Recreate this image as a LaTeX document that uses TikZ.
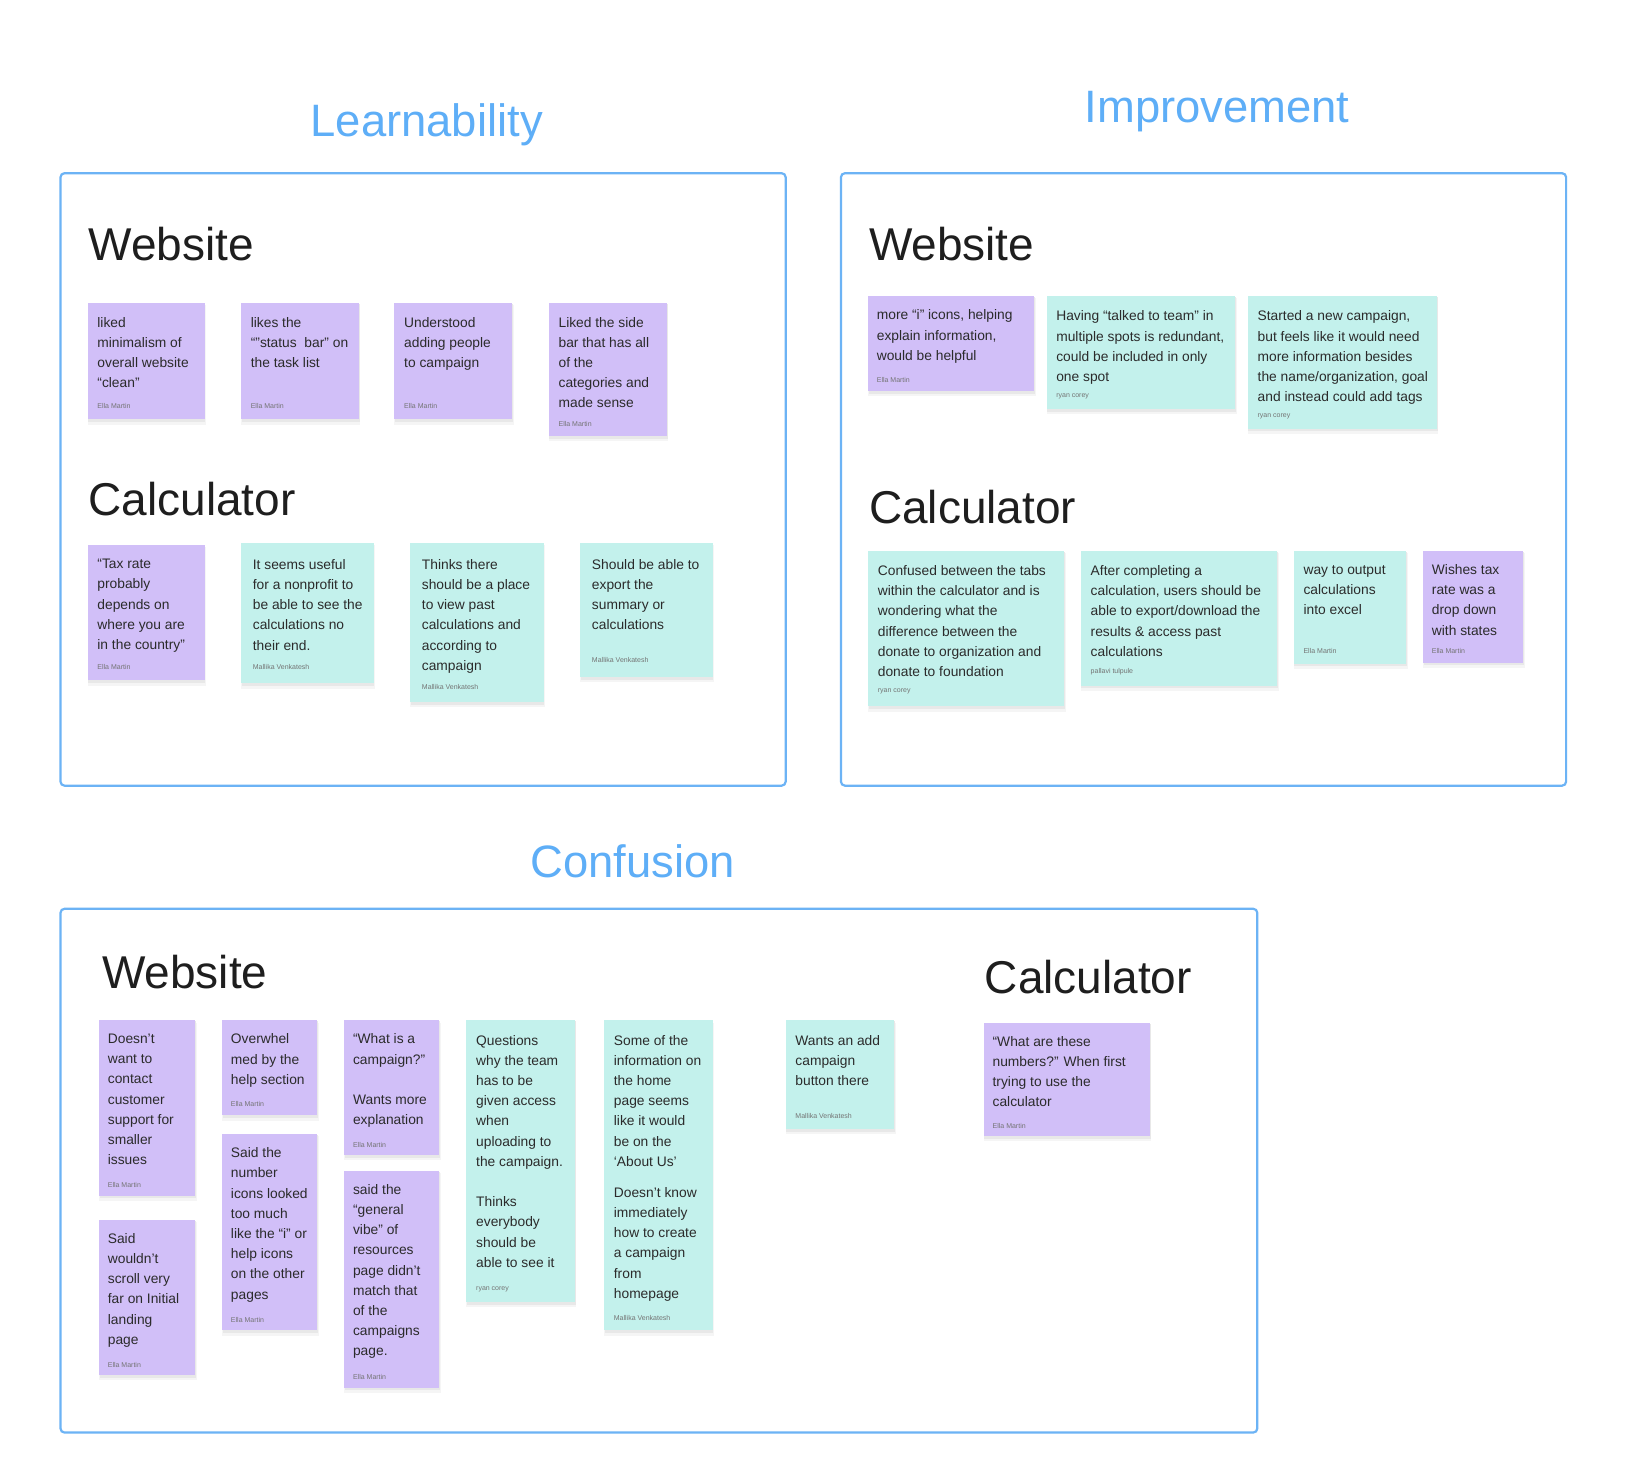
\documentclass[tikz,border=0pt]{standalone}
\usepackage{fontspec}
\setmainfont{Liberation Sans}
\usetikzlibrary{fit}
\definecolor{notepurple}{HTML}{D1BFF8}
\definecolor{noteteal}{HTML}{C3F1EC}
\definecolor{framec}{HTML}{6CB3F5}
\definecolor{titlec}{HTML}{5EAEF7}
\definecolor{inkc}{HTML}{1E1E1E}
\definecolor{notetextc}{HTML}{2B2B2B}
\definecolor{authorc}{HTML}{747474}
\newcommand\notecolor{}
\newcommand\stickyX[9][9]{%
  \fill[shadowa] (#3,#4+2) rectangle (#5+1.5,#6+5);
  \fill[shadowb] (#3+0.5,#4+1) rectangle (#5+0.8,#6+2.5);
  \node[notebox, fill=\notecolor, fit={(#3,#4) (#5,#6)}] (#2) {};
  \node[notetext] (#2-t) at (#3+#1,#4+#1+4.6) {#7};
  \node[authortext] (#2-a) at (#3+#1,#8) {#9};
}
\newcommand\stickyP{\def\notecolor{notepurple}\stickyX}
\newcommand\stickyT{\def\notecolor{noteteal}\stickyX}
\begin{document}
\begin{tikzpicture}[x=0.5217pt,y=-0.5217pt,
  notebox/.style={draw=none, inner sep=0pt, outer sep=0pt},
  notetext/.style={inner sep=0pt, anchor=north west, align=left,
    font=\fontsize{6.9}{10.1}\selectfont, text=notetextc, execute at begin node=\strut},
  authortext/.style={inner sep=0pt, anchor=west, font=\fontsize{3.5}{4}\selectfont, text=authorc},
  framebox/.style={draw=framec, line width=1.1pt, rounded corners=2pt, inner sep=0pt, outer sep=0pt},
  headtext/.style={inner sep=0pt, anchor=base west, font=\fontsize{23}{27}\selectfont, text=inkc},
  titletext/.style={inner sep=0pt, anchor=base, font=\fontsize{22.7}{27}\selectfont, text=titlec},
  shadowa/.style={fill=black!4},
  shadowb/.style={fill=black!9}]
\useasboundingbox (0,0) rectangle (1568,1407);
\fill[white] (0,0) rectangle (1568,1407);

% titles
\node[titletext] (tlearn) at (409,131) {Learnability};
\node[titletext] (timpr) at (1166.5,117) {Improvement};
\node[titletext] (tconf) at (606.5,841) {Confusion};

% frames
\node[framebox, fit={(58,166) (753,753)}] (lframe) {};
\node[framebox, fit={(806,166) (1501,753)}] (iframe) {};
\node[framebox, fit={(58,871) (1205,1373)}] (cframe) {};

% headings
\node[headtext] (lweb) at (84.5,250) {Website};
\node[headtext] (lcalc) at (84.5,494) {Calculator};
\node[headtext] (iweb) at (832.5,250) {Website};
\node[headtext] (icalc) at (832.5,502) {Calculator};
\node[headtext] (cweb) at (97.5,947) {Website};
\node[headtext] (ccalc) at (943.5,952) {Calculator};

% Learnability / Website
\stickyP{a1}{84}{290}{196}{402}{liked\\minimalism of\\overall website\\“clean”}{389}{Ella Martin}
\stickyP{a2}{231}{290}{344}{402}{likes the\\“”status\ \ bar” on\\the task list}{389}{Ella Martin}
\stickyP{a3}{378}{290}{491}{402}{Understood\\adding people\\to campaign}{389}{Ella Martin}
\stickyP{a4}{526}{290}{639}{418}{Liked the side\\bar that has all\\of the\\categories and\\made sense}{406}{Ella Martin}

% Learnability / Calculator
\stickyP{b1}{84}{522}{196}{652}{“Tax rate\\probably\\depends on\\where you are\\in the country”}{639}{Ella Martin}
\stickyT[11]{b2}{231}{520}{358}{655}{It seems useful\\for a nonprofit to\\be able to see the\\calculations no\\their end.}{639}{Mallika Venkatesh}
\stickyT[11]{b3}{393}{520}{521}{673}{Thinks there\\should be a place\\to view past\\calculations and\\according to\\campaign}{658}{Mallika Venkatesh}
\stickyT[11]{b4}{556}{520}{683}{649}{Should be able to\\export the\\summary or\\calculations}{633}{Mallika Venkatesh}

% Improvement / Website
\stickyP[8]{c1}{832}{284}{991}{375}{more “i” icons, helping\\explain information,\\would be helpful}{364}{Ella Martin}
\stickyT{c2}{1003}{284}{1184}{392}{Having “talked to team” in\\multiple spots is redundant,\\could be included in only\\one spot}{380}{ryan corey}
\stickyT{c3}{1196}{284}{1377}{411}{Started a new campaign,\\but feels like it would need\\more information besides\\the name/organization, goal\\and instead could add tags}{399}{ryan corey}

% Improvement / Calculator
\stickyT{d1}{832}{528}{1020}{677}{Confused between the tabs\\within the calculator and is\\wondering what the\\difference between the\\donate to organization and\\donate to foundation}{663}{ryan corey}
\stickyT{d2}{1036}{528}{1224}{657}{After completing a\\calculation, users should be\\able to export/download the\\results \& access past\\calculations}{644}{pallavi tulpule}
\stickyT{d3}{1240}{528}{1348}{636}{way to output\\calculations\\into excel}{624}{Ella Martin}
\stickyP[8]{d4}{1364}{528}{1460}{635}{Wishes tax\\rate was a\\drop down\\with states}{624}{Ella Martin}

% Confusion / Website
\stickyP[8]{e1}{95}{978}{187}{1146}{Doesn’t\\want to\\contact\\customer\\support for\\smaller\\issues}{1136}{Ella Martin}
\stickyP[8]{e2}{95}{1169}{187}{1318}{Said\\wouldn’t\\scroll very\\far on Initial\\landing\\page}{1308}{Ella Martin}
\stickyP[8]{e3}{213}{978}{304}{1069}{Overwhel\\med by the\\help section}{1058}{Ella Martin}
\stickyP[8]{e4}{213}{1087}{304}{1275}{Said the\\number\\icons looked\\too much\\like the “i” or\\help icons\\on the other\\pages}{1265}{Ella Martin}
\stickyP[8]{e5}{330}{978}{421}{1107}{“What is a\\campaign?”\\[10.1pt]Wants more\\explanation}{1097}{Ella Martin}
\stickyP[8]{e6}{330}{1122}{421}{1330}{said the\\“general\\vibe” of\\resources\\page didn’t\\match that\\of the\\campaigns\\page.}{1320}{Ella Martin}
\stickyT{e7}{447}{978}{551}{1248}{Questions\\why the team\\has to be\\given access\\when\\uploading to\\the campaign.\\[10.1pt]Thinks\\everybody\\should be\\able to see it}{1236}{ryan corey}
\stickyT{e8}{579}{978}{683}{1130}{Some of the\\information on\\the home\\page seems\\like it would\\be on the\\‘About Us’}{1120}{}
\stickyT{e9}{579}{1124}{683}{1275}{Doesn’t know\\immediately\\how to create\\a campaign\\from\\homepage}{1263}{Mallika Venkatesh}
\stickyT{e10}{753}{978}{857}{1082}{Wants an add\\campaign\\button there}{1070}{Mallika Venkatesh}

% Confusion / Calculator
\stickyP[8]{f1}{943}{980}{1102}{1089}{“What are these\\numbers?” When first\\trying to use the\\calculator}{1079}{Ella Martin}
\end{tikzpicture}
\end{document}
